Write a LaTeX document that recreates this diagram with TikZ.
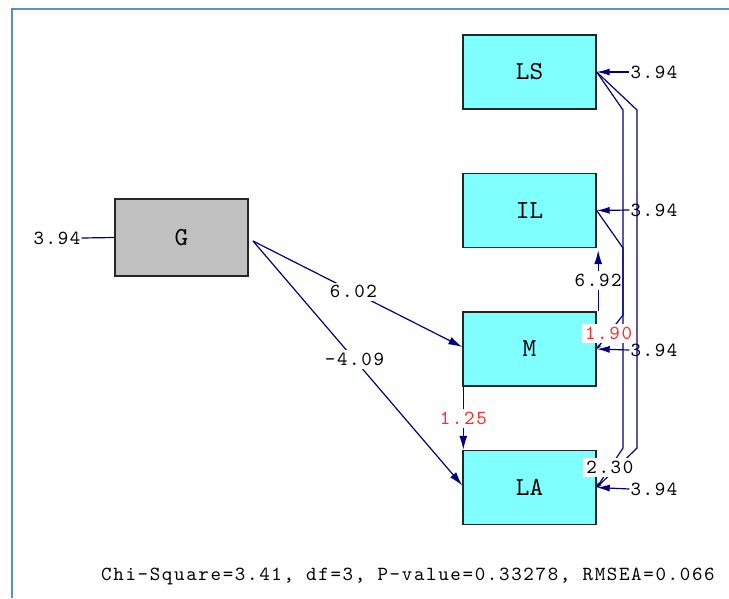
\documentclass[tikz,border=0pt]{standalone}
\usepackage{fontspec}
\newfontfamily\lisfont{lmmono10-regular}[Extension=.otf,LetterSpace=8.3]
\newfontfamily\boxfont{lmmono10-regular}[Extension=.otf]
\usetikzlibrary{arrows.meta}
\definecolor{navyline}{HTML}{000080}
\definecolor{boxcyan}{HTML}{80FFFF}
\definecolor{boxgrey}{HTML}{C0C0C0}
\definecolor{framecol}{HTML}{5B8BD0}
\definecolor{lblred}{HTML}{FF2A2A}
\begin{document}
\begin{tikzpicture}[x=1pt,y=-1pt,
 varbox/.style={draw=black!85,line width=1.4pt,minimum width=133pt,minimum height=74pt,inner sep=0pt,font=\boxfont\fontsize{26}{26}\selectfont},
 obsbox/.style={varbox,fill=boxcyan},
 latbox/.style={varbox,fill=boxgrey,minimum height=77pt},
 num/.style={font=\lisfont\fontsize{20}{20}\selectfont,inner sep=1pt,text=black},
 numbg/.style={num,fill=white,inner sep=3pt},
 redbg/.style={numbg,text=lblred},
 conn/.style={draw=navyline,line width=1.2pt},
 arr/.style={conn,-{Latex[length=14pt,width=8pt]}},
 errarr/.style={conn,-{Latex[length=13pt,width=7pt]}},
 covarr/.style={conn,-{Stealth[length=5pt,width=4pt]}},
 frameline/.style={draw=framecol,line width=2pt}
]
\useasboundingbox (0,0) rectangle (729,598);
\fill[white] (0,0) rectangle (729,598);
\draw[frameline] (12,598) -- (12,9) -- (729,9);

% boxes
\node[obsbox] (LS) at (529.5,72) {LS};
\node[obsbox] (IL) at (529.5,210.5) {IL};
\node[obsbox] (M)  at (529.5,349) {M};
\node[obsbox] (LA) at (529.5,487.5) {LA};
\node[latbox] (G)  at (181.5,237.5) {G};

% error variances
\node[num] (eG)  at (57,238) {3.94};
\node[num] (eLS) at (654,72) {3.94};
\node[num] (eIL) at (654,210) {3.94};
\node[num] (eM)  at (654,350) {3.94};
\node[num] (eLA) at (654,489) {3.94};
\draw[conn] (eG.east) -- (G.west);
\draw[errarr] (eLS.west) -- (LS.east);
\draw[errarr] (eIL.west) -- (IL.east);
\draw[errarr] (eM.west) -- (M.east);
\draw[errarr] (eLA.west) -- (LA.east);

% structural paths
\coordinate (Gout) at (253,241);
\draw[arr] (Gout) -- node[numbg,pos=0.48] {6.02} ([yshift=2pt]M.west);
\draw[arr] (Gout) -- node[numbg,pos=0.485] {-4.09} ([yshift=2pt]LA.west);
\draw[arr] ([xshift=1.5pt]M.north east) -- node[numbg] {6.92} ([xshift=1.5pt,yshift=-2pt]IL.south east);
\draw[arr] ([xshift=1pt]M.south west) -- node[redbg] {1.25} ([xshift=1pt]LA.north west);

% covariances
\coordinate (a1) at (637,110);
\coordinate (a2) at (637,448);
\coordinate (b1) at (623,110);
\coordinate (b2) at (623,448);
\coordinate (c1) at (623,248);
\coordinate (c2) at (623,315);
\draw[covarr] (LS.east) -- (a1) -- (a2) -- (LA.east);
\draw[covarr] (LS.east) -- (b1) -- (b2) -- node[numbg,pos=0.5] {2.30} (LA.east);
\draw[covarr] (IL.east) -- (c1) -- (c2) -- node[redbg,pos=0.55] {1.90} (M.east);

% fit statistics
\node[num,anchor=west] (fit) at (100,576) {Chi-Square=3.41, df=3, P-value=0.33278, RMSEA=0.066};
\end{tikzpicture}
\end{document}
